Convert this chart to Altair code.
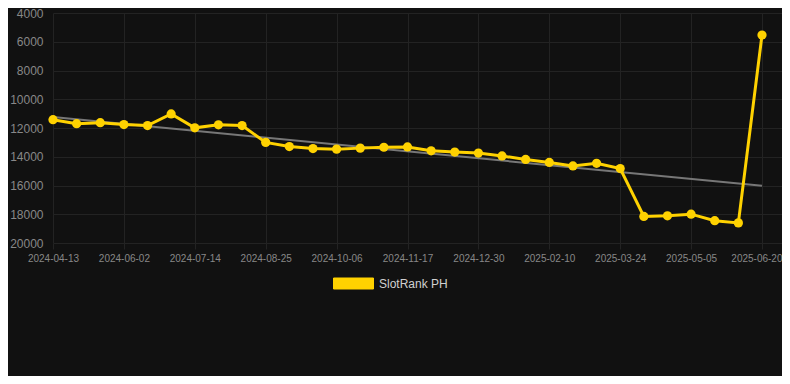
import altair as alt
import pandas as pd

dates = ["2024-04-13", "2024-04-30", "2024-05-16", "2024-06-02", "2024-06-16",
         "2024-06-30", "2024-07-14", "2024-07-28", "2024-08-11", "2024-08-25",
         "2024-09-08", "2024-09-22", "2024-10-06", "2024-10-20", "2024-11-03",
         "2024-11-17", "2024-12-01", "2024-12-15", "2024-12-30", "2025-01-13",
         "2025-01-27", "2025-02-10", "2025-02-24", "2025-03-10", "2025-03-24",
         "2025-04-07", "2025-04-21", "2025-05-05", "2025-05-20", "2025-06-04",
         "2025-06-20"]
ranks = [11425, 11700, 11630, 11760, 11830, 11020, 11990, 11780, 11830, 13000,
         13290, 13430, 13470, 13400, 13340, 13315, 13585, 13675, 13745, 13945,
         14190, 14395, 14640, 14460, 14820, 18150, 18110, 17995, 18445, 18600,
         5530]
series_name = "SlotRank PH"
y_ticks = [4000, 6000, 8000, 10000, 12000, 14000, 16000, 18000, 20000]
x_tick_idx = list(range(0, 31, 3))

df = pd.DataFrame({"idx": list(range(len(ranks))), "date": dates,
                   "rank": ranks, "series": series_name})

YELLOW = "#ffd200"
GRID = "#232323"
TXT = "#888888"
FONT = "Liberation Sans"

label_expr = "[" + ",".join(f"'{d}'" for d in dates) + "][datum.value]"
last_idx = len(ranks) - 1

x_enc = alt.X("idx:Q",
              scale=alt.Scale(domain=[0, 30 * 729 / 709], nice=False, zero=False),
              axis=alt.Axis(values=x_tick_idx, labelExpr=label_expr, title=None,
                            grid=True, gridColor=GRID, domain=False,
                            ticks=True, tickColor=GRID, tickSize=6,
                            labelPadding=4, labelFontSize=10, labelColor=TXT,
                            labelFont=FONT, labelFlush=False,
                            labelAlign={"condition": {"test": f"datum.value == {last_idx}",
                                                      "value": "right"},
                                        "value": "center"},
                            labelOffset={"condition": {"test": f"datum.value == {last_idx}",
                                                       "value": 20},
                                         "value": 0}))
y_enc = alt.Y("rank:Q",
              scale=alt.Scale(domain=[4000, 20000], reverse=True, nice=False, zero=False),
              axis=alt.Axis(values=y_ticks, format="d", title=None, grid=True,
                            gridColor=GRID, domain=False, ticks=False,
                            labelPadding=10, labelFontSize=12, labelColor=TXT,
                            labelFont=FONT))

color_scale = alt.Scale(domain=[series_name], range=[YELLOW])
legend = alt.Legend(title=None, orient="none", legendX=280, legendY=250,
                    padding=0, offset=0,
                    symbolType="M-1,-0.275L1,-0.275L1,0.275L-1,0.275Z",
                    symbolSize=1600, symbolFillColor=YELLOW,
                    symbolStrokeColor=YELLOW, symbolStrokeWidth=1,
                    labelFontSize=12, labelColor="#d0d0d0", labelFont=FONT,
                    labelOffset=5)

base = alt.Chart(df)

trend = base.transform_regression("idx", "rank").mark_line(
    color="#777777", strokeWidth=2).encode(x=x_enc, y=y_enc)

line = base.mark_line(strokeWidth=3).encode(
    x=x_enc, y=y_enc,
    color=alt.Color("series:N", scale=color_scale, legend=None))

points = base.mark_point(filled=True, opacity=1, size=85).encode(
    x=x_enc, y=y_enc,
    color=alt.Color("series:N", scale=color_scale, legend=legend))

chart = alt.layer(trend, line, points).resolve_legend(color="independent").properties(
    width=729, height=230,
    autosize=alt.AutoSizeParams(type="none"),
    padding={"left": 45, "top": 5, "right": 0, "bottom": 133},
    background="#111111",
).configure_view(stroke=None)

chart.save("out.html", embed_options={"renderer": "svg", "actions": False})
